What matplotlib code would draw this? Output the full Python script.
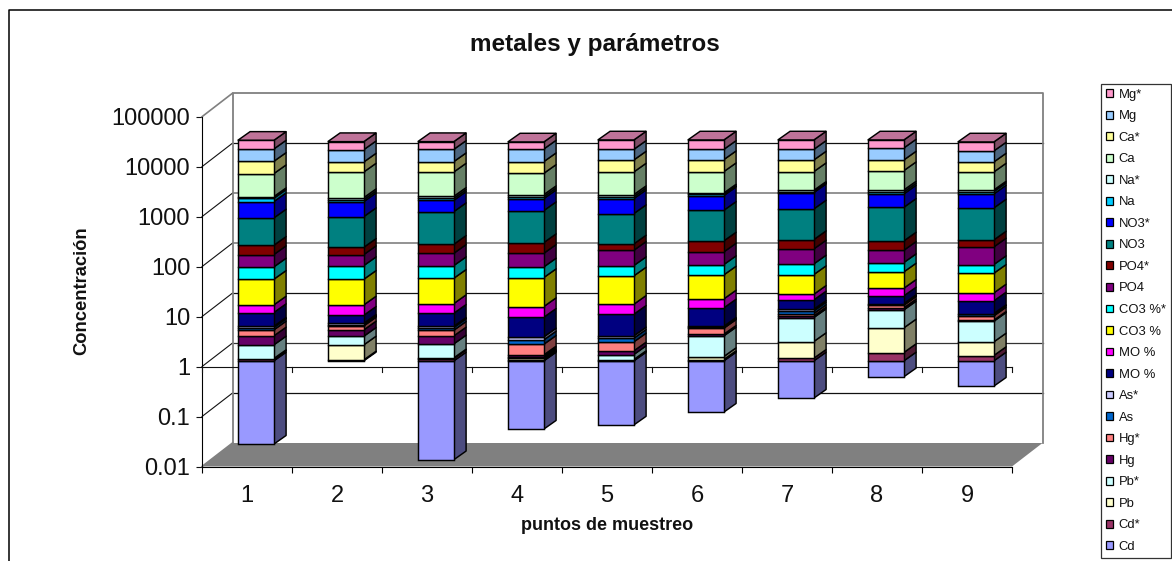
import numpy as np
import matplotlib
matplotlib.use("Agg")
import matplotlib.pyplot as plt
from matplotlib.patches import Patch, Polygon
from matplotlib.lines import Line2D
from matplotlib.transforms import Affine2D, IdentityTransform
from matplotlib.ticker import FixedLocator, FixedFormatter

plt.rcParams['font.family'] = ['Liberation Sans', 'DejaVu Sans']

categories = ['1', '2', '3', '4', '5', '6', '7', '8', '9']
y_ticks = [0.01, 0.1, 1, 10, 100, 1000, 10000, 100000]
y_tick_labels = ['0.01', '0.1', '1', '10', '100', '1000', '10000', '100000']

Cd = [0.0215, 1.0, 0.0105, 0.043, 0.052, 0.094, 0.179, 0.479, 0.311]

# the rest: top of each stacked segment, in decades (log10 of concentration)
Cd_s  = [0.033, 0.020, 0.047, 0.027, 0.020, 0.027, 0.053, 0.167, 0.107]
Pb    = [0.047, 0.320, 0.060, 0.053, 0.027, 0.087, 0.387, 0.660, 0.380]
Pb_s  = [0.320, 0.493, 0.340, 0.087, 0.127, 0.500, 0.867, 1.020, 0.793]
Hg    = [0.500, 0.620, 0.500, 0.120, 0.200, 0.533, 0.900, 1.060, 0.813]
Hg_s  = [0.620, 0.700, 0.613, 0.333, 0.380, 0.653, 0.947, 1.113, 0.900]
As    = [0.667, 0.727, 0.667, 0.420, 0.453, 0.673, 1.000, 1.133, 0.933]
As_s  = [0.693, 0.753, 0.693, 0.480, 0.500, 0.693, 1.033, 1.147, 0.947]
MO    = [0.967, 0.913, 0.953, 0.873, 0.933, 1.060, 1.220, 1.300, 1.200]
MO_s  = [1.120, 1.120, 1.147, 1.087, 1.133, 1.240, 1.333, 1.453, 1.360]
CO3   = [1.633, 1.633, 1.653, 1.667, 1.700, 1.720, 1.727, 1.780, 1.753]
CO3_s = [1.880, 1.907, 1.907, 1.880, 1.907, 1.927, 1.940, 1.967, 1.927]
PO4   = [2.127, 2.127, 2.153, 2.153, 2.213, 2.180, 2.240, 2.213, 2.280]
PO4_s = [2.313, 2.273, 2.333, 2.367, 2.340, 2.400, 2.427, 2.400, 2.420]
NO3   = [2.860, 2.887, 2.987, 3.007, 2.947, 3.013, 3.040, 3.073, 3.060]
NO3_s = [3.187, 3.187, 3.213, 3.247, 3.247, 3.307, 3.367, 3.340, 3.340]
Na    = [3.253, 3.227, 3.253, 3.287, 3.287, 3.333, 3.387, 3.380, 3.387]
Na_s  = [3.287, 3.267, 3.293, 3.327, 3.327, 3.360, 3.413, 3.420, 3.420]
Ca    = [3.747, 3.780, 3.780, 3.753, 3.780, 3.787, 3.787, 3.807, 3.780]
Ca_s  = [3.993, 3.980, 3.987, 3.987, 4.020, 4.027, 4.020, 4.020, 3.980]
Mg    = [4.240, 4.227, 4.233, 4.240, 4.233, 4.233, 4.233, 4.260, 4.200]
Mg_s  = [4.413, 4.387, 4.387, 4.380, 4.420, 4.420, 4.420, 4.420, 4.380]

stack_names = ['Cd*', 'Pb', 'Pb*', 'Hg', 'Hg*', 'As', 'As*', 'MO %', 'MO %', 'CO3 %', 'CO3 %*',
               'PO4', 'PO4*', 'NO3', 'NO3*', 'Na', 'Na*', 'Ca', 'Ca*', 'Mg', 'Mg*']
stack_tops = [Cd_s, Pb, Pb_s, Hg, Hg_s, As, As_s, MO, MO_s, CO3, CO3_s,
              PO4, PO4_s, NO3, NO3_s, Na, Na_s, Ca, Ca_s, Mg, Mg_s]
stack_colors = ['#993366', '#FFFFCC', '#CCFFFF', '#660066', '#FF8080', '#0066CC', '#CCCCFF',
                '#000080', '#FF00FF', '#FFFF00', '#00FFFF', '#800080', '#800000', '#008080',
                '#0000FF', '#00CCFF', '#CCFFFF', '#CCFFCC', '#FFFF99', '#99CCFF', '#FF99CC']
cd_color = '#9999FF'

W, H = 1172, 561
fig = plt.figure(figsize=(W / 100, H / 100), dpi=100, facecolor='white')
ax = fig.add_axes([202 / W, (H - 466.5) / H, 810 / W, 349.8 / H])
ax.set_yscale('log')
ax.set_xlim(0, 9)
ax.set_ylim(0.01, 100000)
ax.patch.set_visible(False)
for s in ('top', 'right'):
    ax.spines[s].set_visible(False)
for s in ('left', 'bottom'):
    ax.spines[s].set_linewidth(0.8)

n = len(categories)
ax.yaxis.set_major_locator(FixedLocator(y_ticks))
ax.yaxis.set_major_formatter(FixedFormatter(y_tick_labels))
ax.yaxis.set_minor_locator(FixedLocator([]))
ax.tick_params(axis='y', which='major', length=4.5, width=0.8, labelsize=17, pad=4, colors='#111111')
ax.set_xticks(np.arange(n + 1))
ax.set_xticklabels([])
ax.set_xticks(np.arange(n) + 0.5, minor=True)
ax.set_xticklabels(categories, minor=True)
ax.tick_params(axis='x', which='major', length=4.5, width=0.8)
ax.tick_params(axis='x', which='minor', length=0, labelsize=17, pad=13, colors='#111111')

WALL = (30.5, 23.5)     # pixel offset of the back wall
BAR = (8.8, 5.7)        # pixel offset of the bar front faces
DEPTH = (12.3, 8.7)     # pixel depth of a bar


def shift(dx, dy):
    return ax.transData + Affine2D().translate(dx, dy)


def disp(x, y, dx=0.0, dy=0.0):
    return ax.transData.transform((x, y)) + np.array([dx, dy])


def shade(color, f):
    r, g, b = matplotlib.colors.to_rgb(color)
    return (r * f, g * f, b * f)


identity = IdentityTransform()
LW = 1.05

# floor
floor = [disp(0, 0.01), disp(9, 0.01), disp(9, 0.01, *WALL), disp(0, 0.01, *WALL)]
ax.add_patch(Polygon(floor, closed=True, transform=identity, facecolor='#808080',
                     edgecolor='none', zorder=1, clip_on=False))

# back wall gridlines, with the floor lines on the left wall
grid_colors = {0.1: '#111111', 1: '#333333', 10: '#111111', 100: '#808080', 1000: '#808080',
               10000: '#111111'}
for v, c in grid_colors.items():
    ax.plot([0, 9], [v, v], transform=shift(*WALL), color=c, lw=0.9 if c != '#808080' else 1.2,
            zorder=2, clip_on=False)
    a, b = disp(0, v), disp(0, v, *WALL)
    ax.add_line(Line2D([a[0], b[0]], [a[1], b[1]], transform=identity, color='#111111',
                       lw=0.8, zorder=2, clip_on=False))
wall_t = shift(*WALL)
ax.plot([0, 0, 9, 9], [0.01, 1e5, 1e5, 0.01], transform=wall_t, color='#808080', lw=1.3,
        zorder=2, clip_on=False)
a, b = disp(0, 1e5), disp(0, 1e5, *WALL)
ax.add_line(Line2D([a[0], b[0]], [a[1], b[1]], transform=identity, color='#808080', lw=1.2,
                   zorder=2, clip_on=False))
a, b = disp(0, 0.01), disp(0, 0.01, *WALL)
ax.add_line(Line2D([a[0], b[0]], [a[1], b[1]], transform=identity, color='#808080', lw=1.2,
                   zorder=2, clip_on=False))

# category axis crossing at 1
ax.plot([0, 9], [1, 1], color='#111111', lw=0.8, zorder=3, clip_on=False)
for k in range(n + 1):
    p = disp(k, 1)
    ax.add_line(Line2D([p[0], p[0]], [p[1], p[1] - 5], transform=identity, color='#111111',
                       lw=0.8, zorder=3, clip_on=False))

# bars
x = np.arange(n) + 0.5
width = 0.4
t_front = shift(*BAR)


def side_poly(xc, y0, y1, color, z):
    xr = xc + width / 2
    pts = [disp(xr, y0, *BAR), disp(xr, y1, *BAR),
           disp(xr, y1, BAR[0] + DEPTH[0], BAR[1] + DEPTH[1]),
           disp(xr, y0, BAR[0] + DEPTH[0], BAR[1] + DEPTH[1])]
    ax.add_patch(Polygon(pts, closed=True, transform=identity, facecolor=shade(color, 0.5),
                         edgecolor='black', lw=LW, zorder=z, clip_on=False, joinstyle='round'))


ones = np.ones(n)
cd_vals = np.array(Cd)
drawn = cd_vals < 1
ax.bar(x[drawn], cd_vals[drawn] - 1, width=width, bottom=1, color=cd_color, edgecolor='black',
       lw=LW, transform=t_front, zorder=6, clip_on=False, label='Cd')
for xc, v in zip(x[drawn], cd_vals[drawn]):
    side_poly(xc, v, 1, cd_color, 5)

bottom = ones.copy()
for name, tops, color in zip(stack_names, stack_tops, stack_colors):
    top = 10 ** np.array(tops)
    ax.bar(x, top - bottom, width=width, bottom=bottom, color=color, edgecolor='black',
           lw=LW, transform=t_front, zorder=6, clip_on=False, label=name)
    for xc, y0, y1 in zip(x, bottom, top):
        side_poly(xc, y0, y1, color, 5)
    bottom = top

# lids of the columns
for xc, y1 in zip(x, bottom):
    xl, xr = xc - width / 2, xc + width / 2
    d2 = (BAR[0] + DEPTH[0], BAR[1] + DEPTH[1])
    pts = [disp(xl, y1, *BAR), disp(xr, y1, *BAR), disp(xr, y1, *d2), disp(xl, y1, *d2)]
    ax.add_patch(Polygon(pts, closed=True, transform=identity, facecolor=shade(stack_colors[-1], 0.75),
                         edgecolor='black', lw=LW, zorder=5, clip_on=False))

# chart frame (its right and bottom sides lie off the picture)
fig.add_artist(Line2D([8.5 / W, 8.5 / W, 1], [0, 1 - 10 / H, 1 - 10 / H], color='black', lw=1.1))

fig.text(595 / W, 1 - 44 / H, 'metales y parámetros', ha='center', va='center',
         fontsize=17.5, fontweight='bold', color='#111111')
fig.text(607 / W, 1 - 526 / H, 'puntos de muestreo', ha='center', va='center',
         fontsize=13, fontweight='bold', color='#111111')
fig.text(82 / W, 1 - 291 / H, 'Concentración', ha='center', va='center', rotation=90,
         fontsize=13.2, fontweight='bold', color='#111111')

# legend, top entry first as in the reference
names = ['Cd'] + stack_names
colors = [cd_color] + stack_colors
handles = [Patch(facecolor=c, edgecolor='black', lw=0.9, label=nm) for nm, c in zip(names, colors)][::-1]
leg = fig.legend(handles=handles, loc='upper left', bbox_to_anchor=(1100.7 / W, 1 - 83.5 / H),
                 bbox_transform=fig.transFigure, fontsize=9.4, frameon=True, fancybox=False,
                 framealpha=1, edgecolor='#333333', borderpad=0.4, borderaxespad=0,
                 handlelength=0.54, handleheight=0.54, handletextpad=0.45,
                 labelspacing=0.73, labelcolor='#111111')
leg.get_frame().set_linewidth(0.9)

fig.savefig('out.png', dpi=100, facecolor='white')
